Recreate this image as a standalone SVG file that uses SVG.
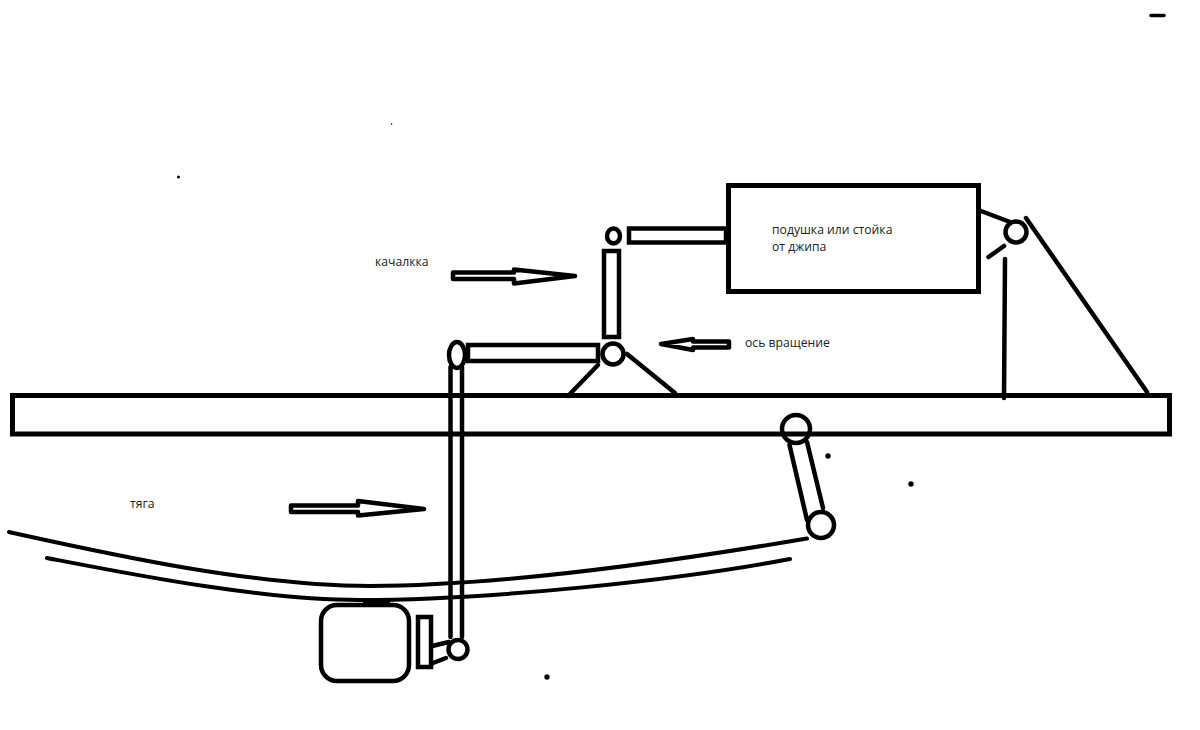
<svg xmlns="http://www.w3.org/2000/svg" width="1200" height="730" viewBox="0 0 1200 730">
<style>
.s{fill:none;stroke:#000;stroke-width:4.500;stroke-linecap:round;stroke-linejoin:round}
.t{fill:none;stroke:#000;stroke-width:4;stroke-linecap:round;stroke-linejoin:round}
.w{fill:#fff;stroke:#000;stroke-width:4.500;stroke-linejoin:miter}
.b{fill:none;stroke:#000;stroke-width:5;stroke-linejoin:miter}
.a{fill:#fff;stroke:#000;stroke-width:4.500;stroke-linejoin:round}
.d{fill:#000}
text{font-family:"Open Sans","Noto Sans","Liberation Sans",sans-serif;font-size:12.200px;fill:#222}
</style>
<rect width="1200" height="730" fill="#fff"/>
<g id="specks">
<path d="M1151 15.500H1164" stroke="#000" stroke-width="3.500" stroke-linecap="round" fill="none"/>
<circle class="d" cx="178.500" cy="177" r="1.500"/>
<circle class="d" cx="391.500" cy="124" r="0.800"/>
<circle class="d" cx="828" cy="456" r="2.700"/>
<circle class="d" cx="911" cy="484" r="2.700"/>
<circle class="d" cx="547" cy="677" r="2.700"/>
</g>
<g id="connectors">
<path class="t" d="M9 532C100 552 250 586 370 586C500 586 680 560 807 538.500"/>
<path class="t" d="M47 558C130 574 260 600 360 600C490 600 680 580 790 559"/>
<path class="s" d="M598 365L568 396"/>
<path class="s" d="M627 354L675 393"/>
<path class="s" d="M981 211L1010 222"/>
<path class="s" d="M988.500 257L1004 246"/>
<path class="s" d="M1005 259L1004 398"/>
<path class="s" d="M1026 218L1147 392"/>
<path class="s" d="M789.500 445L807 520"/>
<path class="s" d="M807 442L823 508"/>
<path class="s" d="M428 647L449 642"/>
<path class="s" d="M433 663L446 658"/>
</g>
<g id="frame-beam"><rect class="b" x="12.500" y="395.500" width="1157" height="38.500"/></g>
<g id="shock-box"><rect class="b" x="728.500" y="185.500" width="250" height="106"/>
<text x="772" y="234">подушка или стойка</text><text x="772" y="251">от джипа</text></g>
<g id="shock-rod"><rect class="w" x="629" y="228.500" width="97" height="14"/></g>
<g id="top-pin"><ellipse class="s" cx="613.500" cy="236" rx="6.500" ry="7.500"/></g>
<g id="rocker-vertical"><rect class="w" x="604" y="251" width="15" height="86"/></g>
<g id="rocker-horizontal"><rect class="w" x="468" y="345" width="130" height="16"/></g>
<g id="pivot"><circle class="s" cx="613" cy="354" r="10.500"/></g>
<g id="rod-joint"><ellipse class="w" cx="457" cy="355" rx="8" ry="13"/></g>
<g id="pull-rod"><path class="s" d="M450.500 367V637M462 367V637"/></g>
<g id="right-mount"><circle class="s" cx="1016" cy="232" r="10.500"/></g>
<g id="shackle-top"><circle class="s" cx="796" cy="429" r="14"/></g>
<g id="shackle-bottom"><circle class="s" cx="821" cy="525" r="13"/></g>
<g id="axle"><rect class="s" x="321" y="605" width="88" height="76" rx="16"/>
<path d="M363 603H390" stroke="#000" stroke-width="6" fill="none"/></g>
<g id="axle-bracket"><rect class="w" x="418" y="617" width="13" height="50"/></g>
<g id="rod-end"><circle class="s" cx="458" cy="649.500" r="9.500"/></g>
<g id="arrow-rocker"><path class="a" d="M453 272.500H514V269.500L575 276L514 283.500V279H453Z"/><text x="375" y="266">качалкка</text></g>
<g id="arrow-pivot"><path class="a" d="M661 344L693 339V341.500H729V347.500H693V350Z"/><text x="745" y="347">ось вращение</text></g>
<g id="arrow-rod"><path class="a" d="M291 505.500H358V501L424 509L358 515.500V512H291Z"/><text x="130" y="508">тяга</text></g>
</svg>
